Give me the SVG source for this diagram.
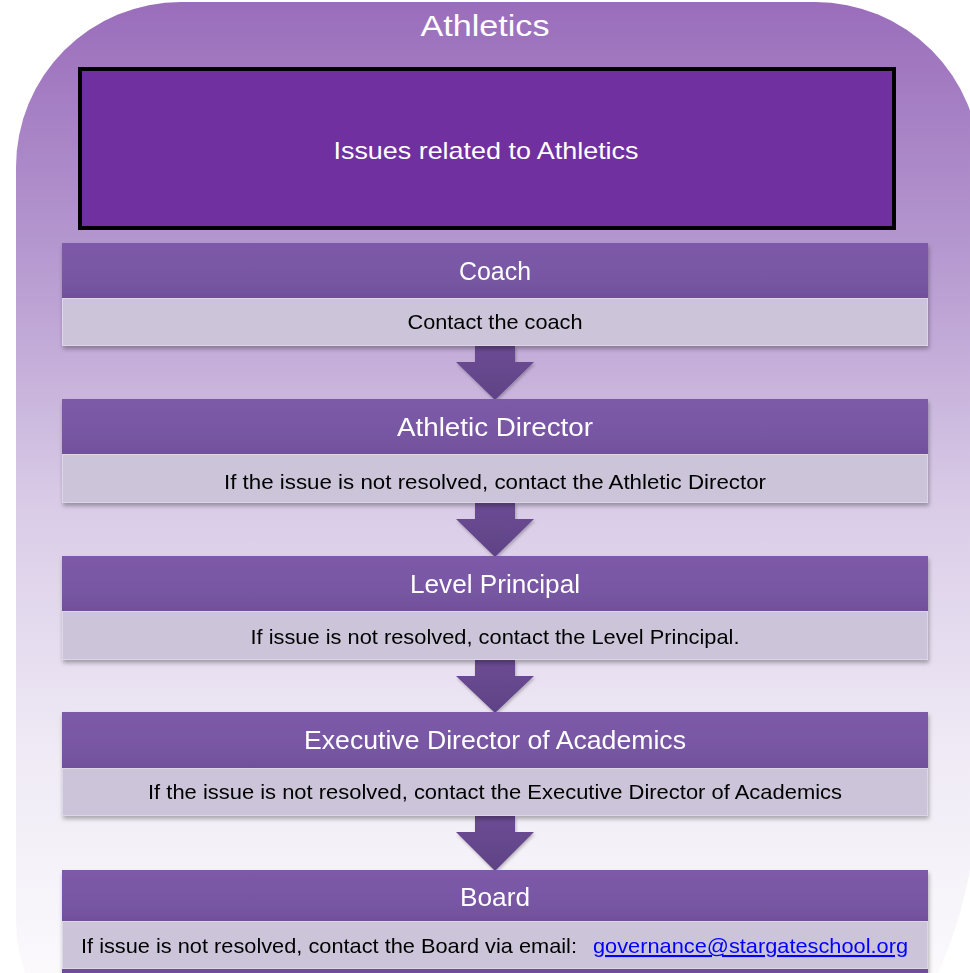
<svg xmlns="http://www.w3.org/2000/svg" width="970" height="973" viewBox="0 0 970 973">
<defs>
<linearGradient id="bg" gradientUnits="userSpaceOnUse" x1="0" y1="2" x2="0" y2="1000">
<stop offset="0" stop-color="#9a6dbb"/>
<stop offset="0.25" stop-color="#b598cf"/>
<stop offset="0.5" stop-color="#d9cbe7"/>
<stop offset="0.75" stop-color="#efeaf5"/>
<stop offset="1" stop-color="#fcfbfd"/>
</linearGradient>
<linearGradient id="hdr" x1="0" y1="0" x2="0" y2="1">
<stop offset="0" stop-color="#7c5aa8"/>
<stop offset="0.6" stop-color="#7857a4"/>
<stop offset="1" stop-color="#71509a"/>
</linearGradient>
<linearGradient id="arr" x1="0" y1="0" x2="0" y2="1">
<stop offset="0" stop-color="#6c4c94"/>
<stop offset="1" stop-color="#5f4286"/>
</linearGradient>
<filter id="sh" x="-5%" y="-20%" width="110%" height="150%">
<feDropShadow dx="1" dy="3" stdDeviation="2" flood-color="#000" flood-opacity="0.3"/>
</filter>
<filter id="ash" x="-20%" y="-20%" width="140%" height="150%">
<feDropShadow dx="1" dy="2" stdDeviation="1.5" flood-color="#000" flood-opacity="0.25"/>
</filter>
</defs>
<style>
text{font-family:"Liberation Sans",Arial,sans-serif;text-anchor:middle}
.hdr{fill:url(#hdr)}
.body{fill:#ccc5d9;stroke:#ddd6e6;stroke-width:1}
.ht{fill:#fff;font-size:26px}
.bt{fill:#000;font-size:21px}
.arrow{fill:url(#arr);filter:url(#ash)}
</style>
<path id="background" d="M181,2 H815 A165,165 0 0 1 980,167 V760 A165,320 0 0 1 815,1080 H181 A165,160 0 0 1 16,920 V167 A165,165 0 0 1 181,2 Z" fill="url(#bg)"/>
<text id="title" x="485" y="36" style="fill:#fff;font-size:30px" textLength="129" lengthAdjust="spacingAndGlyphs">Athletics</text>
<g id="node-issues">
<rect x="80" y="69" width="814" height="159" fill="#7030a0" stroke="#000" stroke-width="4"/>
<text x="486" y="159" style="fill:#fff;font-size:24px" textLength="305" lengthAdjust="spacingAndGlyphs">Issues related to Athletics</text>
</g>
<g id="connectors">
<path class="arrow" d="M475,346 H515 V362 H534 L495,400 L456,362 H475 Z"/>
<path class="arrow" d="M475,503 H515 V519 H534 L495,557 L456,519 H475 Z"/>
<path class="arrow" d="M475,660 H515 V676 H534 L495,713 L456,676 H475 Z"/>
<path class="arrow" d="M475,816 H515 V832 H534 L495,871 L456,832 H475 Z"/>
</g>
<g id="node-coach" filter="url(#sh)">
<rect class="hdr" x="62" y="243" width="866" height="55"/>
<rect class="body" x="62.5" y="298.5" width="865" height="47"/>
<text class="ht" x="495" y="280" textLength="72" lengthAdjust="spacingAndGlyphs">Coach</text>
<text class="bt" x="495" y="329" textLength="175" lengthAdjust="spacingAndGlyphs">Contact the coach</text>
</g>
<g id="node-athletic-director" filter="url(#sh)">
<rect class="hdr" x="62" y="399" width="866" height="55"/>
<rect class="body" x="62.5" y="454.5" width="865" height="48"/>
<text class="ht" x="495" y="436" textLength="196" lengthAdjust="spacingAndGlyphs">Athletic Director</text>
<text class="bt" x="495" y="489" textLength="542" lengthAdjust="spacingAndGlyphs">If the issue is not resolved, contact the Athletic Director</text>
</g>
<g id="node-level-principal" filter="url(#sh)">
<rect class="hdr" x="62" y="556" width="866" height="55"/>
<rect class="body" x="62.5" y="611.5" width="865" height="48"/>
<text class="ht" x="495" y="593" textLength="170" lengthAdjust="spacingAndGlyphs">Level Principal</text>
<text class="bt" x="495" y="644" textLength="489" lengthAdjust="spacingAndGlyphs">If issue is not resolved, contact the Level Principal.</text>
</g>
<g id="node-executive-director" filter="url(#sh)">
<rect class="hdr" x="62" y="712" width="866" height="56"/>
<rect class="body" x="62.5" y="768.5" width="865" height="47"/>
<text class="ht" x="495" y="749" textLength="382" lengthAdjust="spacingAndGlyphs">Executive Director of Academics</text>
<text class="bt" x="495" y="799" textLength="694" lengthAdjust="spacingAndGlyphs">If the issue is not resolved, contact the Executive Director of Academics</text>
</g>
<g id="node-board" filter="url(#sh)">
<rect class="hdr" x="62" y="870" width="866" height="51"/>
<rect class="body" x="62.5" y="921.5" width="865" height="47"/>
<rect x="62" y="969" width="866" height="6" fill="#6e4f97"/>
<text class="ht" x="495" y="906" textLength="70" lengthAdjust="spacingAndGlyphs">Board</text>
<text class="bt" x="329" y="953" textLength="496" lengthAdjust="spacingAndGlyphs">If issue is not resolved, contact the Board via email:</text>
<text class="bt" x="750.5" y="953" style="fill:#0000ff;text-decoration:underline" textLength="315" lengthAdjust="spacingAndGlyphs">governance@stargateschool.org</text>
</g>
</svg>
